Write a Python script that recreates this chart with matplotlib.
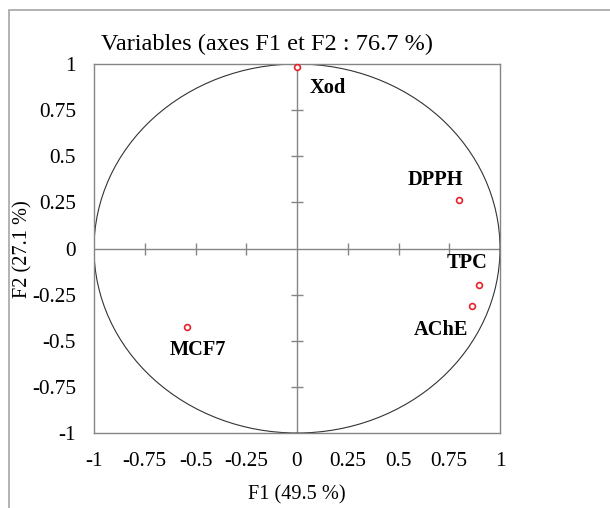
import matplotlib
matplotlib.use('Agg')
import matplotlib.pyplot as plt
from matplotlib.patches import Circle, Rectangle

variables = ['Xod', 'DPPH', 'TPC', 'AChE', 'MCF7']
f1 = [0.0, 0.80, 0.895, 0.86, -0.54]
f2 = [0.985, 0.263, -0.20, -0.31, -0.427]
ticks = [-1, -0.75, -0.5, -0.25, 0, 0.25, 0.5, 0.75, 1]
tick_labels = ['-1', '-0.75', '-0.5', '-0.25', '0', '0.25', '0.5', '0.75', '1']

# label placement (offset in points, alignment)
label_pos = {
    'Xod': ((9.4, -15.1), 'left'),
    'DPPH': ((2.9, 14.4), 'right'),
    'TPC': ((6.7, 15.8), 'right'),
    'AChE': ((-2.2, -17.3), 'right'),
    'MCF7': ((7.6, -16.6), 'center'),
}

plt.rcParams['font.family'] = ['Liberation Serif', 'DejaVu Serif']
grey = '#858585'

fig = plt.figure(figsize=(6.1, 5.08), dpi=100)
ax = fig.add_axes([94/610, 75/508, 406/610, 369/508])

# outer frame of the picture
fig.patches.append(Rectangle((9/610, -0.2), 2, 498/508 + 0.2, transform=fig.transFigure,
                             fill=False, edgecolor='#a6a6a6', lw=1.2))

ax.set_xlim(-1, 1)
ax.set_ylim(-1, 1)
for s in ax.spines.values():
    s.set_color(grey)
    s.set_linewidth(1.0)

ax.set_xticks(ticks)
ax.set_xticklabels(tick_labels)
ax.set_yticks(ticks)
ax.set_yticklabels(tick_labels)
ax.tick_params(axis='both', length=0, labelsize=15.3)
ax.tick_params(axis='x', pad=14)
ax.tick_params(axis='y', pad=13)

# centre axes with crossing ticks
ax.axhline(0, color=grey, lw=1.0, zorder=1)
ax.axvline(0, color=grey, lw=1.0, zorder=1)
inner = [t for t in ticks if t not in (-1, 0, 1)]
ax.plot(inner, [0] * len(inner), linestyle='none', marker='|', markersize=9,
        color=grey, mew=1.0, zorder=1)
ax.plot([0] * len(inner), inner, linestyle='none', marker='_', markersize=9,
        color=grey, mew=1.0, zorder=1)

ax.add_patch(Circle((0, 0), 1, fill=False, edgecolor='#333333', lw=0.8, zorder=2))

ax.plot(f1, f2, linestyle='none', marker='o', markersize=4.2, mfc='white',
        mec='#e8202a', mew=1.2, zorder=3, clip_on=False)

for name, x, y in zip(variables, f1, f2):
    off, ha = label_pos[name]
    ax.annotate(name, (x, y), xytext=off, textcoords='offset points',
                ha=ha, va='center', fontsize=14.7, fontweight='bold')

fig.text(267/610, 1 - 44/508, 'Variables (axes F1 et F2 : 76.7 %)',
         ha='center', va='center', fontsize=17.5)
fig.text(297/610, 1 - 495/508, 'F1 (49.5 %)', ha='center', va='center', fontsize=14.6)
fig.text(23/610, 1 - 249/508, 'F2 (27.1 %)', ha='center', va='center',
         fontsize=14.6, rotation=90)

fig.savefig('out.png', dpi=100)
